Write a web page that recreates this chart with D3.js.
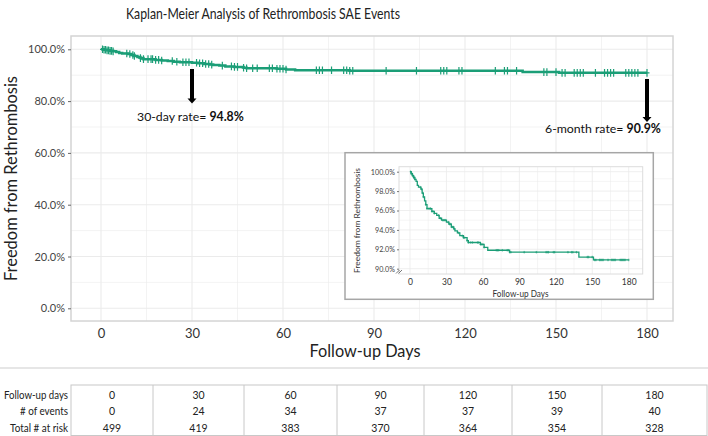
<!DOCTYPE html>
<html><head><meta charset="utf-8">
<script src="https://cdn.jsdelivr.net/npm/d3@7"></script>
<style>body{margin:0;background:#fff} text{font-family:Lato,"Open Sans",sans-serif}</style>
</head><body><svg id="c" width="708" height="436"></svg>
<script>
// ---- data ----
const stepDays = [0,1,2,3,4,5,6,7,9,10,11,12,13,14,18,20,22,24,26,30,32,34,36,37,39,41,44,47,48,58,61,64,82,139,151];
const stepSurv = [100,99.8,99.6,99.4,99.2,99.0,98.6,98.4,98.2,97.8,97.4,97.0,96.6,96.2,95.9,95.7,95.5,95.2,95.0,94.8,94.6,94.3,94.1,93.9,93.7,93.4,93.2,92.9,92.7,92.5,92.2,91.9,91.7,91.2,90.9];
const censorDays = [0.5,1,1.5,2,2.5,3,3.5,4,8.5,9.5,10.5,11,13,14,15.5,16.5,17,18,19,20,23.5,25,27,28,29,31.5,32.5,33.5,34.5,35.5,36.5,40,43,44,45,47,48,50,51.5,55.5,56.5,58,59,60,61,71,72,73,76,80,81,82,83,94,104,112,113,114,118,119,130,133,134,137,146,147,150,152,153,156,157,158,159,163,166,167,168,169,173,174,175,176,177,180];
const xTickDays = [0,30,60,90,120,150,180];
const yTicksMain = [0,20,40,60,80,100];
const yTicksInset = [90,92,94,96,98,100];
const tableRowLabels = ["Follow-up days","# of events","Total # at risk"];
const tableDays = [0,30,60,90,120,150,180];
const tableEvents = [0,24,34,37,37,39,40];
const tableAtRisk = [499,419,383,370,364,354,328];
const rate30 = "94.8%", rate180 = "90.9%";
const titleText = "Kaplan-Meier Analysis of Rethrombosis SAE Events";

// ---- drawing ----
const svg = d3.select("#c");
const green = "#1b9e77";
const grid = "#ebebeb";
const fmtPct = d => d.toFixed(1) + "%";
const survAt = t => { let s = stepSurv[0]; for (let i=0;i<stepDays.length;i++){ if (stepDays[i] <= t) s = stepSurv[i]; } return s; };
const pts = stepDays.map((d,i)=>[d, stepSurv[i]]).concat([[180, stepSurv[stepSurv.length-1]]]);

svg.append("text").attr("x",126).attr("y",19).attr("textLength",274).attr("lengthAdjust","spacingAndGlyphs")
  .attr("font-size",16).attr("fill","#222").text(titleText);

// main panel
const P = {l:71, t:36, r:673, b:321};
const x = d3.scaleLinear().domain([0,180]).range([101,647]);
const y = d3.scaleLinear().domain([0,100]).range([308.3,49.3]);
const gm = svg.append("g");
gm.append("rect").attr("x",P.l).attr("y",P.t).attr("width",P.r-P.l).attr("height",P.b-P.t).attr("fill","#fff");
d3.range(-15,190,15).filter(d=>x(d)>P.l&&x(d)<P.r).forEach(d=>{
  gm.append("line").attr("x1",x(d)).attr("x2",x(d)).attr("y1",P.t).attr("y2",P.b).attr("stroke",grid).attr("stroke-width",d%30===0?1.1:0.6);
});
d3.range(-10,110,10).filter(d=>y(d)>P.t&&y(d)<P.b).forEach(d=>{
  gm.append("line").attr("x1",P.l).attr("x2",P.r).attr("y1",y(d)).attr("y2",y(d)).attr("stroke",grid).attr("stroke-width",d%20===0?1.1:0.6);
});
gm.append("rect").attr("x",P.l).attr("y",P.t).attr("width",P.r-P.l).attr("height",P.b-P.t).attr("fill","none").attr("stroke","#d4d4d4").attr("stroke-width",1.5);

// axes
const yAx = svg.append("g").attr("transform",`translate(${P.l},0)`)
  .call(d3.axisLeft(y).tickValues(yTicksMain).tickFormat(fmtPct).tickSize(3).tickPadding(3));
yAx.select(".domain").remove();
yAx.selectAll("line").attr("stroke","#666");
yAx.selectAll("text").attr("font-size",11).attr("fill","#444").style("font-family","Lato");
const xAx = svg.append("g").attr("transform",`translate(0,${P.b})`)
  .call(d3.axisBottom(x).tickValues(xTickDays).tickSize(0).tickPadding(8));
xAx.select(".domain").remove();
xAx.selectAll("text").attr("font-size",13).attr("fill","#333").style("font-family","Lato");

svg.append("text").attr("transform","translate(16.5,178.5) rotate(-90)").attr("text-anchor","middle")
  .attr("textLength",205).attr("lengthAdjust","spacingAndGlyphs")
  .attr("font-size",17.5).attr("fill","#222").text("Freedom from Rethrombosis");
svg.append("text").attr("x",365).attr("y",357).attr("text-anchor","middle")
  .attr("textLength",111).attr("lengthAdjust","spacingAndGlyphs")
  .attr("font-size",17).attr("fill","#222").text("Follow-up Days");

// curve
const line = d3.line().x(d=>x(d[0])).y(d=>y(d[1])).curve(d3.curveStepAfter);
gm.append("path").attr("d",line(pts)).attr("fill","none").attr("stroke",green).attr("stroke-width",2.5);
gm.selectAll(".cm").data(censorDays).join("path").attr("class","cm")
  .attr("transform",d=>`translate(${x(d)},${y(survAt(d))})`)
  .attr("d","M-2.5,0H2.5M0,-3.8V3.8").attr("stroke",green).attr("stroke-width",1.2).attr("fill","none");

// arrows + annotations
function arrow(day, y1, y2){
  const ax = x(day);
  svg.append("line").attr("x1",ax).attr("x2",ax).attr("y1",y1).attr("y2",y2-4).attr("stroke","#000").attr("stroke-width",4);
  svg.append("path").attr("d",`M${ax-4.5},${y2-5}L${ax+4.5},${y2-5}L${ax},${y2}Z`).attr("fill","#000");
}
arrow(30, 69, 103.5);
arrow(180, 79, 122);
const a1 = svg.append("text").attr("x",137).attr("y",121).attr("font-size",12.3).attr("fill","#111");
a1.append("tspan").text("30-day rate= ");
a1.append("tspan").attr("font-weight","bold").text(rate30);
const a2 = svg.append("text").attr("x",545).attr("y",133).attr("font-size",12.3).attr("fill","#111");
a2.append("tspan").text("6-month rate= ");
a2.append("tspan").attr("font-weight","bold").text(rate180);

// inset
svg.append("rect").attr("x",345).attr("y",152.7).attr("width",308.3).attr("height",146.6).attr("fill","#fff").attr("stroke","#a6a6a6").attr("stroke-width",1.5);
const I = {l:399, t:166.7, r:642.7, b:274};
const xi = d3.scaleLinear().domain([0,180]).range([410,628.7]);
const yi = d3.scaleLinear().domain([90,100]).range([268.7,171.7]);
const gi = svg.append("g");
d3.range(-15,190,15).filter(d=>xi(d)>I.l&&xi(d)<I.r).forEach(d=>{
  gi.append("line").attr("x1",xi(d)).attr("x2",xi(d)).attr("y1",I.t).attr("y2",I.b).attr("stroke",grid).attr("stroke-width",d%30===0?0.8:0.5);
});
d3.range(89,101,1).filter(d=>yi(d)>I.t&&yi(d)<I.b).forEach(d=>{
  gi.append("line").attr("x1",I.l).attr("x2",I.r).attr("y1",yi(d)).attr("y2",yi(d)).attr("stroke",grid).attr("stroke-width",d%2===0?0.8:0.5);
});
gi.append("rect").attr("x",I.l).attr("y",I.t).attr("width",I.r-I.l).attr("height",I.b-I.t).attr("fill","none").attr("stroke","#dcdcdc").attr("stroke-width",1);
const yiAx = svg.append("g").attr("transform",`translate(${I.l},0)`)
  .call(d3.axisLeft(yi).tickValues(yTicksInset).tickFormat(fmtPct).tickSize(2).tickPadding(2));
yiAx.select(".domain").remove();
yiAx.selectAll("line").attr("stroke","#777");
yiAx.selectAll("text").attr("font-size",7.2).attr("fill","#444").style("font-family","Lato");
const xiAx = svg.append("g").attr("transform",`translate(0,${I.b})`)
  .call(d3.axisBottom(xi).tickValues(xTickDays).tickSize(0).tickPadding(5));
xiAx.select(".domain").remove();
xiAx.selectAll("text").attr("font-size",8.5).attr("fill","#333").style("font-family","Lato");
svg.append("text").attr("transform","translate(359.5,220.5) rotate(-90)").attr("text-anchor","middle")
  .attr("textLength",105).attr("lengthAdjust","spacingAndGlyphs")
  .attr("font-size",8).attr("fill","#333").text("Freedom from Rethrombosis");
svg.append("text").attr("x",520.5).attr("y",296.5).attr("text-anchor","middle")
  .attr("textLength",56).attr("lengthAdjust","spacingAndGlyphs")
  .attr("font-size",8.5).attr("fill","#333").text("Follow-up Days");
// axis break mark
svg.append("path").attr("d","M396,273.5L399.5,270M398.5,273.5L402,270").attr("stroke","#555").attr("stroke-width",0.8).attr("fill","none");
const linei = d3.line().x(d=>xi(d[0])).y(d=>yi(d[1])).curve(d3.curveStepAfter);
gi.append("path").attr("d",linei(pts)).attr("fill","none").attr("stroke",green).attr("stroke-width",1.3);
gi.selectAll(".ci").data(censorDays).join("path").attr("class","ci")
  .attr("transform",d=>`translate(${xi(d)},${yi(survAt(d))})`)
  .attr("d","M-1,0H1M0,-1.3V1.3").attr("stroke",green).attr("stroke-width",0.6).attr("fill","none");

// separator
svg.append("line").attr("x1",0).attr("x2",708).attr("y1",368).attr("y2",368).attr("stroke","#e6e6e6").attr("stroke-width",2);

// table
const colB = [71,153,244,337,424,512,602,707];
const T = {t:385, b:435.5};
const rowY = [395, 411.5, 428];
const labelLen = [64, 48, 58];
svg.append("rect").attr("x",colB[0]).attr("y",T.t).attr("width",colB[colB.length-1]-colB[0]).attr("height",T.b-T.t).attr("fill","none").attr("stroke","#c8c8c8").attr("stroke-width",1);
colB.slice(1,-1).forEach(cx=>svg.append("line").attr("x1",cx).attr("x2",cx).attr("y1",T.t).attr("y2",T.b).attr("stroke","#c8c8c8").attr("stroke-width",1));
tableRowLabels.forEach((lab,i)=>svg.append("text").attr("x",68).attr("y",rowY[i]).attr("dy","0.35em").attr("text-anchor","end")
  .attr("textLength",labelLen[i]).attr("lengthAdjust","spacingAndGlyphs").attr("font-size",10.5).attr("fill","#222").text(lab));
[tableDays, tableEvents, tableAtRisk].forEach((row,ri)=>{
  row.forEach((v,ci)=>{
    svg.append("text").attr("x",(colB[ci]+colB[ci+1])/2).attr("y",rowY[ri]).attr("dy","0.35em").attr("text-anchor","middle").attr("font-size",10.5).attr("fill","#222").text(v);
  });
});
</script></body></html>
